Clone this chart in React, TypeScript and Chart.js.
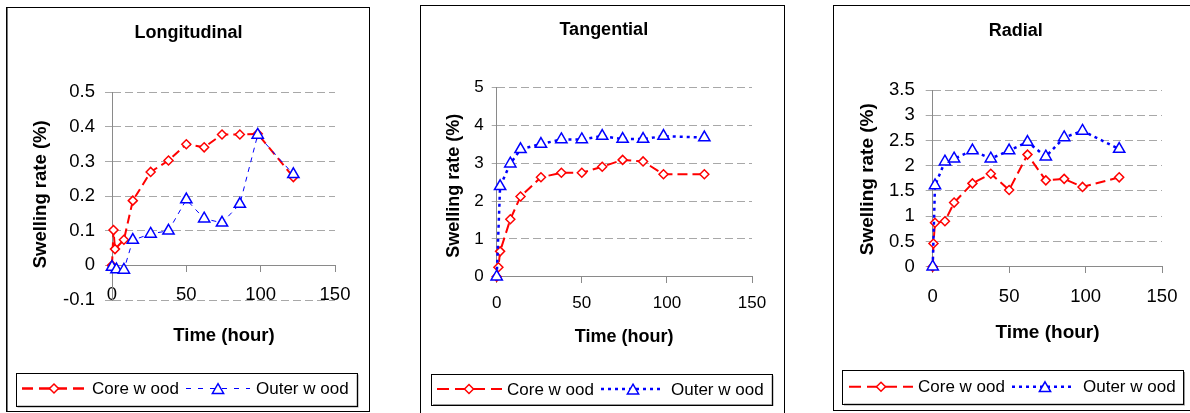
import React, { useEffect, useRef } from 'react';
import { Chart, registerables } from 'chart.js';

Chart.register(...registerables);

// ---------- data ----------
const seriesNames = ['Core w ood', 'Outer w ood'];
const panelTitles = ['Longitudinal', 'Tangential', 'Radial'];
const xAxisTitle = 'Time (hour)';
const yAxisTitle = 'Swelling rate (%)';

// Longitudinal
const longCoreTime = [0, 1, 2, 8, 14, 26, 38, 50, 62, 74, 86, 98, 122];
const longCoreRate = [0, 0.102, 0.047, 0.074, 0.187, 0.27, 0.303, 0.35, 0.341, 0.378, 0.378, 0.38, 0.255];
const longOuterTime = [0, 3, 8, 14, 26, 38, 50, 62, 74, 86, 98, 122];
const longOuterRate = [-0.005, -0.012, -0.013, 0.073, 0.091, 0.1, 0.19, 0.135, 0.123, 0.177, 0.377, 0.263];

// Tangential
const tanCoreTime = [0, 1, 2, 8, 14, 26, 38, 50, 62, 74, 86, 98, 122];
const tanCoreRate = [0, 0.25, 0.67, 1.52, 2.12, 2.63, 2.75, 2.75, 2.91, 3.09, 3.05, 2.71, 2.71];
const tanOuterTime = [0, 2, 8, 14, 26, 38, 50, 62, 74, 86, 98, 122];
const tanOuterRate = [0, 2.39, 2.99, 3.37, 3.51, 3.63, 3.63, 3.72, 3.64, 3.64, 3.72, 3.68];

// Radial
const radCoreTime = [0, 0.5, 1.5, 8, 14, 26, 38, 50, 62, 74, 86, 98, 122];
const radCoreRate = [0, 0.46, 0.87, 0.9, 1.27, 1.65, 1.84, 1.52, 2.22, 1.71, 1.74, 1.58, 1.77];
const radOuterTime = [0, 1.5, 8, 14, 26, 38, 50, 62, 74, 86, 98, 122];
const radOuterRate = [0, 1.61, 2.08, 2.14, 2.3, 2.14, 2.3, 2.47, 2.18, 2.56, 2.69, 2.33];

const xMin = 0;
const xMax = 150;
const xStep = 50;

const RED = '#ff0000';
const BLUE = '#0000ff';
const FONT = '"Liberation Sans", Arial, sans-serif';

const pts = (t: number[], v: number[]) => t.map((x, i) => ({ x, y: v[i] }));

type LineStyle = { w: number; dash: number[] };
type PanelCfg = {
  title: string;
  core: { x: number; y: number }[];
  outer: { x: number; y: number }[];
  box: { l: number; t: number; r: number; b: number };
  plot: { l: number; r: number; t: number; b: number };
  yMin: number; yMax: number; yStep: number;
  tickSize: number; yTickLen: number; yTickPad: number; xTickPad: number;
  titlePos: { x: number; y: number }; titleSize: number;
  xTitlePos: { x: number; y: number }; yTitlePos: { x: number; y: number }; axisTitleSize: number;
  legend: { l: number; t: number; r: number; b: number; cy: number; core: number[]; outer: number[] };
  legendSize: number;
  coreLine: LineStyle; outerLine: LineStyle;
  legCoreLine: LineStyle; legOuterLine: LineStyle;
  thickLeft?: boolean;
};

const panels: PanelCfg[] = [
  {
    title: panelTitles[0],
    core: pts(longCoreTime, longCoreRate),
    outer: pts(longOuterTime, longOuterRate),
    box: { l: 6, t: 7, r: 369, b: 411 },
    plot: { l: 112, r: 335, t: 92.3, b: 300 },
    yMin: -0.1, yMax: 0.5, yStep: 0.1,
    tickSize: 18.5, yTickLen: 7, yTickPad: 10, xTickPad: 12,
    titlePos: { x: 188.5, y: 37.7 }, titleSize: 18,
    xTitlePos: { x: 224, y: 340.7 }, yTitlePos: { x: 46, y: 194.3 }, axisTitleSize: 18.5,
    legend: { l: 15.5, t: 372.5, r: 356.5, b: 405.5, cy: 388.5, core: [22, 88, 54, 92], outer: [186, 250, 218, 256] },
    legendSize: 17,
    coreLine: { w: 2, dash: [9, 5] }, outerLine: { w: 1, dash: [5, 5] },
    legCoreLine: { w: 2.5, dash: [11, 6] }, legOuterLine: { w: 1, dash: [5, 7] },
    thickLeft: true,
  },
  {
    title: panelTitles[1],
    core: pts(tanCoreTime, tanCoreRate),
    outer: pts(tanOuterTime, tanOuterRate),
    box: { l: 420, t: 5, r: 784, b: 430 },
    plot: { l: 496.7, r: 752, t: 87.7, b: 276.7 },
    yMin: 0, yMax: 5, yStep: 1,
    tickSize: 17, yTickLen: 5, yTickPad: 8, xTickPad: 10,
    titlePos: { x: 603.8, y: 35 }, titleSize: 18,
    xTitlePos: { x: 624.2, y: 342.3 }, yTitlePos: { x: 459, y: 185.8 }, axisTitleSize: 18,
    legend: { l: 431, t: 373.5, r: 771.5, b: 404, cy: 389, core: [437, 502, 469, 507], outer: [601, 664, 633, 671] },
    legendSize: 17,
    coreLine: { w: 2, dash: [10, 5] }, outerLine: { w: 2.5, dash: [3, 4] },
    legCoreLine: { w: 2, dash: [12, 6] }, legOuterLine: { w: 2.5, dash: [3, 4] },
  },
  {
    title: panelTitles[2],
    core: pts(radCoreTime, radCoreRate),
    outer: pts(radOuterTime, radOuterRate),
    box: { l: 833, t: 5, r: 1200, b: 410 },
    plot: { l: 932.7, r: 1162, t: 90, b: 266.7 },
    yMin: 0, yMax: 3.5, yStep: 0.5,
    tickSize: 18.5, yTickLen: 7, yTickPad: 11, xTickPad: 13,
    titlePos: { x: 1015.8, y: 35.7 }, titleSize: 18,
    xTitlePos: { x: 1047.5, y: 338.3 }, yTitlePos: { x: 873, y: 179.2 }, axisTitleSize: 19,
    legend: { l: 842, t: 370, r: 1183, b: 403.5, cy: 386.7, core: [849, 913, 881, 918], outer: [1012, 1075, 1045, 1083] },
    legendSize: 17,
    coreLine: { w: 2, dash: [10, 5] }, outerLine: { w: 2.5, dash: [3, 4] },
    legCoreLine: { w: 2, dash: [12, 6] }, legOuterLine: { w: 2.5, dash: [3, 4] },
  },
];

function diamond(ctx: CanvasRenderingContext2D, x: number, y: number, r: number) {
  ctx.beginPath();
  ctx.moveTo(x, y - r);
  ctx.lineTo(x + r, y);
  ctx.lineTo(x, y + r);
  ctx.lineTo(x - r, y);
  ctx.closePath();
  ctx.fill();
  ctx.stroke();
}

function triangle(ctx: CanvasRenderingContext2D, x: number, y: number, r: number) {
  const h = (r * Math.sqrt(3)) / 2;
  const cy = y + r / 4;
  ctx.beginPath();
  ctx.moveTo(x, cy - r);
  ctx.lineTo(x + h, cy + r / 2);
  ctx.lineTo(x - h, cy + r / 2);
  ctx.closePath();
  ctx.fill();
  ctx.stroke();
}

function makeOverlay(cfg: PanelCfg) {
  return {
    id: 'overlay',
    afterDraw(chart: any) {
      const ctx: CanvasRenderingContext2D = chart.ctx;
      const ox = cfg.box.l;
      const oy = cfg.box.t;
      const w = cfg.box.r - cfg.box.l + 1;
      const h = cfg.box.b - cfg.box.t + 1;
      ctx.save();
      // panel frame
      ctx.setLineDash([]);
      ctx.strokeStyle = '#000';
      ctx.lineWidth = 1;
      ctx.strokeRect(0.5, 0.5, w - 1, h - 1);
      if (cfg.thickLeft) {
        ctx.strokeStyle = '#777';
        ctx.beginPath();
        ctx.moveTo(1.5, 1);
        ctx.lineTo(1.5, h - 1);
        ctx.stroke();
      }
      ctx.fillStyle = '#000';
      // title
      ctx.font = `bold ${cfg.titleSize}px ${FONT}`;
      ctx.textAlign = 'center';
      ctx.textBaseline = 'alphabetic';
      ctx.fillText(cfg.title, cfg.titlePos.x - ox, cfg.titlePos.y - oy);
      // axis titles
      ctx.font = `bold ${cfg.axisTitleSize}px ${FONT}`;
      ctx.fillText(xAxisTitle, cfg.xTitlePos.x - ox, cfg.xTitlePos.y - oy);
      ctx.save();
      ctx.translate(cfg.yTitlePos.x - ox, cfg.yTitlePos.y - oy);
      ctx.rotate(-Math.PI / 2);
      ctx.fillText(yAxisTitle, 0, 0);
      ctx.restore();

      // legend
      const L = cfg.legend;
      const lx = L.l - ox, ly = L.t - oy, lw = L.r - L.l, lh = L.b - L.t;
      ctx.fillStyle = '#9a9a9a';
      ctx.fillRect(lx + 2, ly + 2, lw, lh);
      ctx.fillStyle = '#fff';
      ctx.fillRect(lx, ly, lw, lh);
      ctx.strokeStyle = '#000';
      ctx.lineWidth = 1;
      ctx.strokeRect(Math.round(lx) + 0.5, Math.round(ly) + 0.5, Math.round(lw), Math.round(lh));
      const cy = L.cy - oy;
      const entries = [
        { pos: L.core, color: RED, style: cfg.legCoreLine, marker: 'd', label: seriesNames[0] },
        { pos: L.outer, color: BLUE, style: cfg.legOuterLine, marker: 't', label: seriesNames[1] },
      ];
      entries.forEach((e) => {
        ctx.strokeStyle = e.color;
        ctx.lineWidth = e.style.w;
        ctx.setLineDash(e.style.dash);
        ctx.beginPath();
        ctx.moveTo(e.pos[0] - ox, cy);
        ctx.lineTo(e.pos[1] - ox, cy);
        ctx.stroke();
        ctx.setLineDash([]);
        ctx.fillStyle = '#fff';
        ctx.lineWidth = 1.5;
        if (e.marker === 'd') diamond(ctx, e.pos[2] - ox, cy, 4.5);
        else triangle(ctx, e.pos[2] - ox, cy, 6.5);
        ctx.fillStyle = '#000';
        ctx.font = `${cfg.legendSize}px ${FONT}`;
        ctx.textAlign = 'left';
        ctx.textBaseline = 'middle';
        ctx.fillText(e.label, e.pos[3] - ox, cy + 1);
      });
      ctx.restore();
    },
  };
}

function Panel({ cfg }: { cfg: PanelCfg }) {
  const ref = useRef<HTMLCanvasElement>(null);
  const w = cfg.box.r - cfg.box.l + 1;
  const h = cfg.box.b - cfg.box.t + 1;
  useEffect(() => {
    if (!ref.current) return;
    const Y_W = 16;
    const ox = cfg.box.l;
    const oy = cfg.box.t;
    const chart = new Chart(ref.current, {
      type: 'line',
      data: {
        datasets: [
          {
            label: seriesNames[0],
            data: cfg.core,
            order: 1,
            borderColor: RED,
            borderWidth: cfg.coreLine.w,
            borderDash: cfg.coreLine.dash,
            pointStyle: 'rectRot',
            pointRadius: 4.5,
            pointBorderWidth: 1.5,
            pointBorderColor: RED,
            pointBackgroundColor: '#fff',
            tension: 0,
            fill: false,
            clip: false,
          } as any,
          {
            label: seriesNames[1],
            data: cfg.outer,
            order: 0,
            borderColor: BLUE,
            borderWidth: cfg.outerLine.w,
            borderDash: cfg.outerLine.dash,
            pointStyle: 'triangle',
            pointRadius: 6.5,
            pointBorderWidth: 1.5,
            pointBorderColor: BLUE,
            pointBackgroundColor: '#fff',
            tension: 0,
            fill: false,
            clip: false,
          } as any,
        ],
      },
      options: {
        responsive: false,
        animation: false,
        devicePixelRatio: 1,
        events: [],
        layout: {
          padding: {
            left: cfg.plot.l - ox - Y_W - cfg.yTickLen - cfg.yTickPad - 40,
            right: w - (cfg.plot.r - ox),
            top: cfg.plot.t - oy,
            bottom: h - (cfg.plot.b - oy),
          },
        },
        plugins: {
          legend: { display: false },
          tooltip: { enabled: false },
          title: { display: false },
        },
        scales: {
          x: {
            type: 'linear',
            min: xMin,
            max: xMax,
            position: { y: 0 } as any,
            ticks: {
              stepSize: xStep,
              color: '#000',
              font: { family: FONT, size: cfg.tickSize },
              padding: cfg.xTickPad,
              maxRotation: 0,
              autoSkip: false,
            },
            grid: { drawOnChartArea: false, drawTicks: true, tickLength: 6, color: '#8a8a8a', tickColor: '#8a8a8a' },
            border: { display: true, color: '#8a8a8a', width: 1 },
          },
          y: {
            type: 'linear',
            position: 'left',
            min: cfg.yMin,
            max: cfg.yMax,
            afterFit: (s: any) => {
              s.width = Y_W + cfg.yTickLen + cfg.yTickPad + 40;
            },
            ticks: {
              stepSize: cfg.yStep,
              color: '#000',
              font: { family: FONT, size: cfg.tickSize },
              padding: cfg.yTickPad,
              callback: (v: any) => String(Math.round(Number(v) * 10) / 10),
            },
            grid: {
              color: '#a8a8a8',
              lineWidth: 1,
              tickLength: cfg.yTickLen,
              tickColor: '#a8a8a8',
              tickBorderDash: [8, 4],
            },
            border: { display: true, color: '#8a8a8a', width: 1, dash: [8, 4] },
          },
        },
      } as any,
      plugins: [makeOverlay(cfg)],
    });
    return () => chart.destroy();
  }, [cfg]);
  return (
    <canvas
      ref={ref}
      width={w}
      height={h}
      style={{ position: 'absolute', left: cfg.box.l, top: cfg.box.t, width: w, height: h }}
    />
  );
}

export default function App() {
  return (
    <div
      style={{
        position: 'fixed',
        left: 0,
        top: 0,
        width: 1190,
        height: 413,
        overflow: 'hidden',
        background: '#fff',
      }}
    >
      {panels.map((p, i) => (
        <Panel key={i} cfg={p} />
      ))}
    </div>
  );
}
